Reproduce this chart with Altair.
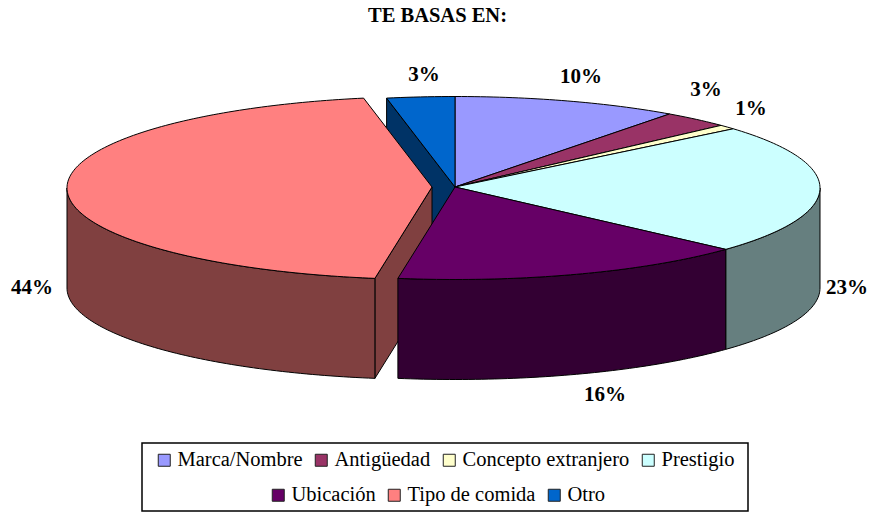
import math
import altair as alt

# --- data -----------------------------------------------------------------
categories = ["Marca/Nombre", "Antigüedad", "Concepto extranjero", "Prestigio",
              "Ubicación", "Tipo de comida", "Otro"]
shares = [10.0, 3.0, 0.8, 22.9, 15.8, 44.5, 3.0]
pct_labels = ["10%", "3%", "1%", "23%", "16%", "44%", "3%"]
top_colors = ["#9999FF", "#993366", "#FFFFCC", "#CCFFFF", "#660066", "#FF8080", "#0066CC"]
side_colors = ["#4C4C7F", "#4C1933", "#7F7F66", "#667F7F", "#330033", "#804040", "#003366"]
title_text = "TE BASAS EN:"

# --- layout ---------------------------------------------------------------
PAD_TOP = 24
OX, OY = 8, 8 + PAD_TOP           # page offset of the plot origin
CX, CY = 455 - OX, 188 - OY
RX, RY = 365, 91.5
DEPTH = 100
EXPLODE = {"Tipo de comida": -23}
label_x = [581, 706, 751, 847, 605, 32, 424]
label_y = [77, 90, 109, 288, 395, 288, 75]

# --- geometry derived from the shares -------------------------------------
edges = [0.0]
for s in shares:
    edges.append(edges[-1] + s / sum(shares))


def rim(f, dx=0.0, dz=0.0):
    t = 2 * math.pi * f
    return [CX + dx + RX * math.sin(t), CY + dz - RY * math.cos(t)]


def arc(f0, f1, dx=0.0, dz=0.0):
    n = max(2, int((f1 - f0) * 360))
    return [rim(f0 + (f1 - f0) * i / n, dx, dz) for i in range(n + 1)]


def feature(points, name, col):
    return {"type": "Feature",
            "properties": {"name": name, "col": col},
            "geometry": {"type": "Polygon", "coordinates": [points + [points[0]]]}}


tops, walls = [], []
for i, name in enumerate(categories):
    f0, f1 = edges[i], edges[i + 1]
    dx = EXPLODE.get(name, 0)
    apex = [CX + dx, CY - 1]
    tops.append(feature([apex] + arc(f0, f1, dx), name, top_colors[i]))

# cut walls facing the viewer, painted back to front
for i, f in [(6, edges[6]), (5, edges[5])]:
    dx = EXPLODE.get(categories[i], 0)
    a = [CX + dx, CY - 1]
    r = rim(f, dx)
    walls.append(feature([a, r, [r[0], r[1] + DEPTH], [a[0], a[1] + DEPTH]],
                         categories[i], side_colors[i]))
# outer walls, front half of the ellipse only
for i in (5, 3, 4):
    f0, f1 = max(edges[i], 0.25), min(edges[i + 1], 0.75)
    dx = EXPLODE.get(categories[i], 0)
    walls.append(feature(arc(f0, f1, dx) + arc(f0, f1, dx, DEPTH)[::-1],
                         categories[i], side_colors[i]))

LABEL_FONT = "Liberation Serif"


def legend(x, y):
    return alt.Legend(title=None, orient="none", legendX=x - OX, legendY=y - OY,
                      direction="horizontal", columns=4, gridAlign="none",
                      symbolType="square", symbolSize=144, symbolStrokeWidth=1,
                      symbolStrokeColor="#222222", symbolOpacity=1,
                      labelFont=LABEL_FONT, labelFontSize=20.5, labelColor="black",
                      labelOffset=3, columnPadding=8, padding=0, labelLimit=300)


box = alt.Chart(alt.Data(values=[{"a": 1}])).mark_rect(
    fill="white", stroke="black", strokeWidth=1.5).encode(
    x=alt.value(142 - OX), x2=alt.value(748 - OX),
    y=alt.value(443 - OY), y2=alt.value(511 - OY))

wall_layer = alt.Chart(alt.Data(values=walls)).mark_geoshape(
    stroke="black", strokeWidth=1).encode(
    fill=alt.Fill("properties.col:N", scale=None, legend=None)).project(
    type="identity", scale=1, translate=[0, 0])


def top_layer(idx, x, y):
    return alt.Chart(alt.Data(values=[tops[i] for i in idx])).mark_geoshape(
        stroke="black", strokeWidth=1).encode(
        fill=alt.Fill("properties.name:N",
                      scale=alt.Scale(domain=[categories[i] for i in idx],
                                      range=[top_colors[i] for i in idx]),
                      legend=legend(x, y))).project(
        type="identity", scale=1, translate=[0, 0])


label_rows = [{"t": t, "lon": x - OX, "lat": y - OY}
              for t, x, y in zip(pct_labels, label_x, label_y)]
labels = alt.Chart(alt.Data(values=label_rows)).mark_text(
    font=LABEL_FONT, fontWeight="bold", fontSize=21, color="black",
    align="center", baseline="middle").encode(
    longitude="lon:Q", latitude="lat:Q", text="t:N").project(
    type="identity", scale=1, translate=[0, 0])

chart = alt.layer(
    box, wall_layer,
    top_layer([0, 1, 2, 3], 154, 450),
    top_layer([4, 5, 6], 268, 485),
    labels,
).resolve_scale(fill="independent").properties(
    width=862, height=480,
    padding={"left": 0, "top": PAD_TOP, "right": 0, "bottom": 0},
    autosize=alt.AutoSizeParams(type="none"),
    background="white",
    title=alt.TitleParams(title_text, font=LABEL_FONT, fontWeight="bold", fontSize=20.5,
                          color="black", anchor="start", dx=360, offset=6, frame="group"),
).configure_view(stroke=None)

chart.save("out.html", embed_options={"renderer": "svg", "actions": False})
